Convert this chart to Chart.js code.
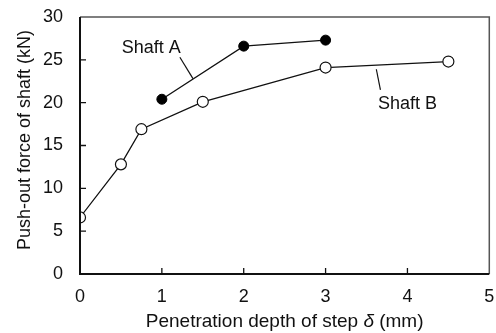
<!DOCTYPE html>
<html>
<head>
<meta charset="utf-8">
<script src="https://cdn.jsdelivr.net/npm/chart.js@4/dist/chart.umd.min.js"></script>
<style>
html, body { margin: 0; padding: 0; background: #fff; }
</style>
</head>
<body>
<canvas id="chart" width="496" height="333"></canvas>
<script>
// data
const depthA = [1, 2, 3];
const forceA = [20.4, 26.6, 27.3];
const depthB = [0, 0.5, 0.75, 1.5, 3, 4.5];
const forceB = [6.6, 12.8, 16.9, 20.1, 24.1, 24.8];
const seriesNames = ['Shaft A', 'Shaft B'];
const xTicks = [0, 1, 2, 3, 4, 5];
const yTicks = [0, 5, 10, 15, 20, 25, 30];
const xTitle = ['Penetration depth of step ', 'δ', ' (mm)'];
const yTitle = 'Push-out force of shaft (kN)';

const FONT = '"Liberation Sans", Arial, sans-serif';
const INK = '#111';

function toPoints(xs, ys) {
    return xs.map((x, i) => ({ x: x, y: ys[i] }));
}

// labels with leader lines, in data units
const callouts = [
    { text: seriesNames[0], tx: 0.87, ty: 26.4, from: [1.22, 25.3], to: [1.38, 22.8] },
    { text: seriesNames[1], tx: 4.0, ty: 19.8, from: [3.62, 23.9], to: [3.67, 21.5] }
];

function noPadding(s) {
    s.paddingLeft = 0;
    s.paddingRight = 0;
    s.paddingTop = 0;
    s.paddingBottom = 0;
}

const decorPlugin = {
    id: 'decor',
    afterDraw(chart) {
        const ctx = chart.ctx;
        const xs = chart.scales.x;
        const ys = chart.scales.y;
        const a = chart.chartArea;
        ctx.save();

        // grey frame on top and right
        ctx.strokeStyle = '#555';
        ctx.lineWidth = 1.5;
        ctx.beginPath();
        ctx.moveTo(a.left, a.top);
        ctx.lineTo(a.right, a.top);
        ctx.lineTo(a.right, a.bottom);
        ctx.stroke();

        // black axes
        ctx.strokeStyle = INK;
        ctx.lineWidth = 2;
        ctx.beginPath();
        ctx.moveTo(a.left, a.top);
        ctx.lineTo(a.left, a.bottom);
        ctx.lineTo(a.right, a.bottom);
        ctx.stroke();

        // inward ticks
        ctx.lineWidth = 1.3;
        ctx.beginPath();
        xTicks.forEach(v => {
            if (v === xTicks[0] || v === xTicks[xTicks.length - 1]) return;
            const px = xs.getPixelForValue(v);
            ctx.moveTo(px, a.bottom);
            ctx.lineTo(px, a.bottom - 6);
        });
        yTicks.forEach(v => {
            if (v === yTicks[0] || v === yTicks[yTicks.length - 1]) return;
            const py = ys.getPixelForValue(v);
            ctx.moveTo(a.left, py);
            ctx.lineTo(a.left + 6, py);
        });
        ctx.stroke();

        // callouts
        ctx.fillStyle = INK;
        ctx.font = '18px ' + FONT;
        ctx.textAlign = 'center';
        ctx.textBaseline = 'middle';
        ctx.lineWidth = 1.2;
        callouts.forEach(c => {
            ctx.fillText(c.text, xs.getPixelForValue(c.tx), ys.getPixelForValue(c.ty));
            ctx.beginPath();
            ctx.moveTo(xs.getPixelForValue(c.from[0]), ys.getPixelForValue(c.from[1]));
            ctx.lineTo(xs.getPixelForValue(c.to[0]), ys.getPixelForValue(c.to[1]));
            ctx.stroke();
        });

        // x title with italic delta
        const fonts = ['19px ' + FONT, 'italic 19px ' + FONT, '19px ' + FONT];
        let total = 0;
        const widths = xTitle.map((t, i) => {
            ctx.font = fonts[i];
            const w = ctx.measureText(t).width;
            total += w;
            return w;
        });
        let cx = (a.left + a.right) / 2 - total / 2;
        ctx.textAlign = 'left';
        xTitle.forEach((t, i) => {
            ctx.font = fonts[i];
            ctx.fillText(t, cx, 322);
            cx += widths[i];
        });

        // y title
        ctx.font = '18px ' + FONT;
        ctx.textAlign = 'center';
        ctx.translate(25, 140);
        ctx.rotate(-Math.PI / 2);
        ctx.fillText(yTitle, 0, 0);
        ctx.restore();
    }
};

new Chart('chart', {
    type: 'scatter',
    data: {
        datasets: [{
            label: seriesNames[0],
            data: toPoints(depthA, forceA),
            showLine: true,
            borderColor: INK,
            borderWidth: 1.3,
            pointRadius: 5,
            pointBackgroundColor: '#000',
            pointBorderColor: '#000',
            pointBorderWidth: 1
        }, {
            label: seriesNames[1],
            data: toPoints(depthB, forceB),
            showLine: true,
            borderColor: INK,
            borderWidth: 1.3,
            pointRadius: 5.5,
            pointBackgroundColor: '#fff',
            pointBorderColor: INK,
            pointBorderWidth: 1.2
        }]
    },
    options: {
        responsive: false,
        animation: false,
        layout: { padding: { top: 17, right: 5, left: 0, bottom: 0 } },
        plugins: {
            legend: { display: false },
            tooltip: { enabled: false }
        },
        scales: {
            x: {
                type: 'linear',
                min: 0,
                max: 5,
                afterBuildTicks: s => { s.ticks = xTicks.map(v => ({ value: v })); },
                afterFit: s => { s.height = 59; noPadding(s); },
                grid: { display: false, drawTicks: false },
                border: { display: false },
                ticks: { color: INK, font: { family: FONT, size: 18 }, padding: 12 }
            },
            y: {
                type: 'linear',
                min: 0,
                max: 30,
                afterBuildTicks: s => { s.ticks = yTicks.map(v => ({ value: v })); },
                afterFit: s => { s.width = 80; noPadding(s); },
                grid: { display: false, drawTicks: false },
                border: { display: false },
                ticks: { color: INK, font: { family: FONT, size: 18 }, padding: 17 }
            }
        }
    },
    plugins: [decorPlugin]
});
</script>
</body>
</html>
